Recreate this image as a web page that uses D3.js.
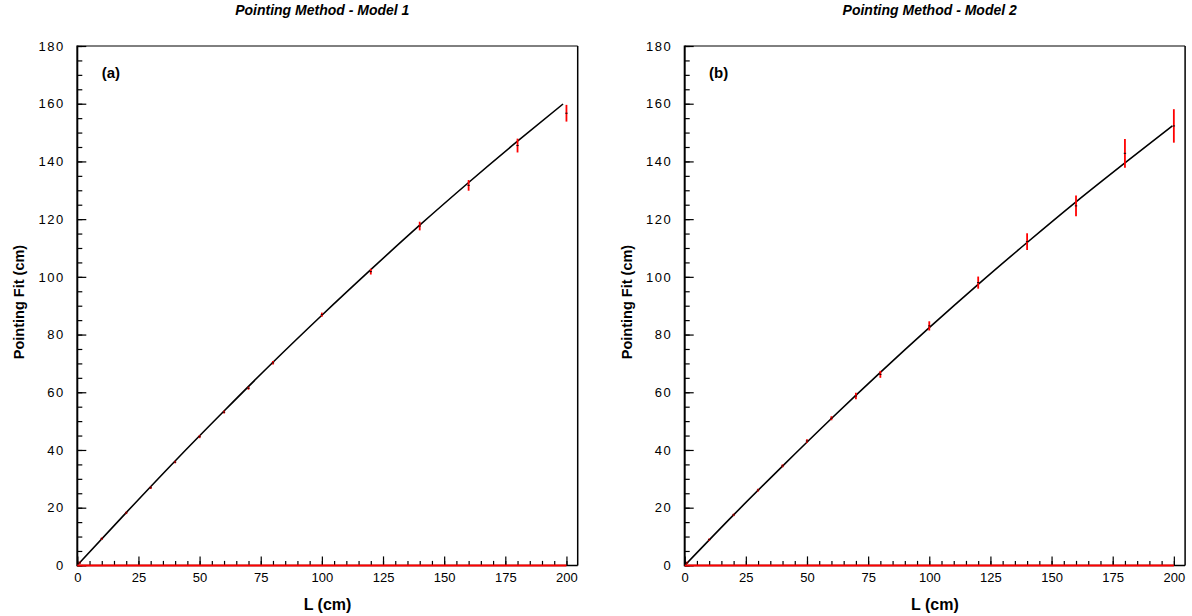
<!DOCTYPE html>
<html><head><meta charset="utf-8">
<script src="https://cdn.jsdelivr.net/npm/d3@7"></script>
<style>
body{margin:0;background:#fff}
svg{display:block}
text{font-family:"Liberation Sans",Arial,Helvetica,sans-serif;fill:#000}
</style>
</head><body>
<svg id="c" width="1192" height="616"></svg>
<script>
// ---- data ----
const lengths = [1,10,20,30,40,50,60,70,80,100,120,140,160,180,200];
const fitModel1 = [0.9,9.25,18.2,26.9,35.8,44.6,53.1,61.4,70.2,86.9,101.8,117.6,131.7,145.5,156.7];
const errModel1 = [0.4,0.4,0.4,0.4,0.4,0.5,0.5,0.5,0.6,0.7,1.0,1.5,1.85,2.4,2.9];
const fitModel2 = [0.9,8.9,17.5,26.1,34.5,43.1,51.0,58.7,66.2,83.0,98.0,112.2,124.6,142.8,152.3];
const errModel2 = [0.4,0.4,0.4,0.5,0.5,0.6,0.7,1.1,1.2,1.6,2.1,2.9,3.6,5.0,5.8];
const curveLModel1 = [0.5,20,40,60,80,100,120,140,160,180,198.6];
const curveYModel1 = [0.5,18.3,36.2,53.5,70.4,86.7,102.5,117.9,132.7,147.0,159.9];
const curveLModel2 = [0.5,20,40,60,80,100,120,140,160,180,199.4];
const curveYModel2 = [0.4,17.5,34.4,50.9,66.9,82.4,97.4,111.9,126.0,139.5,152.3];
const xMajorTicks = [0,25,50,75,100,125,150,175,200];
const yMajorTicks = [0,20,40,60,80,100,120,140,160,180];
const titles = ["Pointing Method - Model 1","Pointing Method - Model 2"];
const panelTags = ["(a)","(b)"];
const xTitle = "L (cm)";
const yTitle = "Pointing Fit (cm)";

// ---- layout ----
const svg = d3.select("#c");
const PW = 500.4, TOP = 46, BOT = 565.4;
const panels = [
  {left:77.3, title:titles[0], tag:panelTags[0], L:lengths, v:fitModel1, e:errModel1, cl:curveLModel1, cy:curveYModel1},
  {left:684.7, title:titles[1], tag:panelTags[1], L:lengths, v:fitModel2, e:errModel2, cl:curveLModel2, cy:curveYModel2}
];
const xMinor = d3.range(0,201,5);
const yMinor = d3.range(0,181,5);

panels.forEach(p=>{
  const g = svg.append("g").attr("transform",`translate(${p.left},0)`);
  const x = d3.scaleLinear().domain([0,204.6]).range([0,PW]);
  const y = d3.scaleLinear().domain([0,180]).range([BOT,TOP]);

  // minor ticks
  g.append("g").call(d3.axisLeft(y).tickValues(yMinor).tickSizeInner(-5).tickSizeOuter(0).tickFormat(""))
    .call(a=>a.select(".domain").remove());
  g.append("g").attr("transform",`translate(0,${BOT})`)
    .call(d3.axisBottom(x).tickValues(xMinor).tickSizeInner(-4.5).tickSizeOuter(0).tickFormat(""))
    .call(a=>a.select(".domain").remove());
  // major ticks
  const ya = g.append("g").call(d3.axisLeft(y).tickValues(yMajorTicks).tickSizeInner(-9).tickSizeOuter(0).tickPadding(14))
    .call(a=>a.select(".domain").remove());
  ya.selectAll("text").style("font-size","13px").attr("letter-spacing","1.5px").attr("dx","1.5");
  const xa = g.append("g").attr("transform",`translate(0,${BOT})`)
    .call(d3.axisBottom(x).tickValues(xMajorTicks).tickSizeInner(-9).tickSizeOuter(0).tickPadding(7))
    .call(a=>a.select(".domain").remove());
  xa.selectAll("text").style("font-size","13px");
  g.selectAll(".tick line").attr("stroke","#000").attr("stroke-width",1.2);

  // frame
  g.append("line").attr("x1",0).attr("x2",PW).attr("y1",TOP).attr("y2",TOP).attr("stroke","#000").attr("stroke-width",1);
  g.append("line").attr("x1",PW).attr("x2",PW).attr("y1",TOP).attr("y2",BOT).attr("stroke","#000").attr("stroke-width",1.5);
  g.append("line").attr("x1",0).attr("x2",PW).attr("y1",BOT).attr("y2",BOT).attr("stroke","#000").attr("stroke-width",1.5);
  g.append("line").attr("x1",0).attr("x2",0).attr("y1",TOP-0.5).attr("y2",BOT+0.8).attr("stroke","#000").attr("stroke-width",2);

  // zero red line
  g.append("line").attr("x1",x(0)).attr("x2",x(200)).attr("y1",y(0)).attr("y2",y(0))
    .attr("stroke","#ff0000").attr("stroke-width",2);

  // fit curve
  const cdata = p.cl.map((d,i)=>[d,p.cy[i]]);
  g.append("path").datum(cdata)
    .attr("d", d3.line().x(d=>x(d[0])).y(d=>y(d[1])).curve(d3.curveMonotoneX))
    .attr("fill","none").attr("stroke","#000").attr("stroke-width",1.6);

  // points with error bars
  const pts = p.L.map((d,i)=>({L:d,v:p.v[i],e:p.e[i]}));
  const pg = g.append("g");
  pg.selectAll("line.err").data(pts).join("line").attr("class","err")
    .attr("x1",d=>x(d.L)).attr("x2",d=>x(d.L))
    .attr("y1",d=>Math.min(y(d.v+d.e), y(d.v)-1.2))
    .attr("y2",d=>Math.max(y(d.v-d.e), y(d.v)+1.2))
    .attr("stroke","#ff0000").attr("stroke-width",1.8);
  pg.selectAll("line.mk").data(pts).join("line").attr("class","mk")
    .attr("x1",d=>x(d.L)-1.2).attr("x2",d=>x(d.L)+1.2)
    .attr("y1",d=>y(d.v)).attr("y2",d=>y(d.v))
    .attr("stroke","#000").attr("stroke-width",0.9);

  // texts
  g.append("text").attr("x",24.4).attr("y",77.5).style("font-size","15px").style("font-weight","bold").text(p.tag);
  svg.append("text").attr("x",p.left+245).attr("y",14.5).attr("text-anchor","middle")
    .style("font-size","14px").style("font-weight","bold").style("font-style","italic").text(p.title);
  svg.append("text").attr("x",p.left+PW/2).attr("y",610).attr("text-anchor","middle")
    .style("font-size","16px").style("font-weight","bold").text(xTitle);
  svg.append("text").attr("transform",`translate(${p.left-53},302) rotate(-90)`).attr("text-anchor","middle")
    .style("font-size","14.5px").style("font-weight","bold").text(yTitle);
});
</script>
</body></html>
